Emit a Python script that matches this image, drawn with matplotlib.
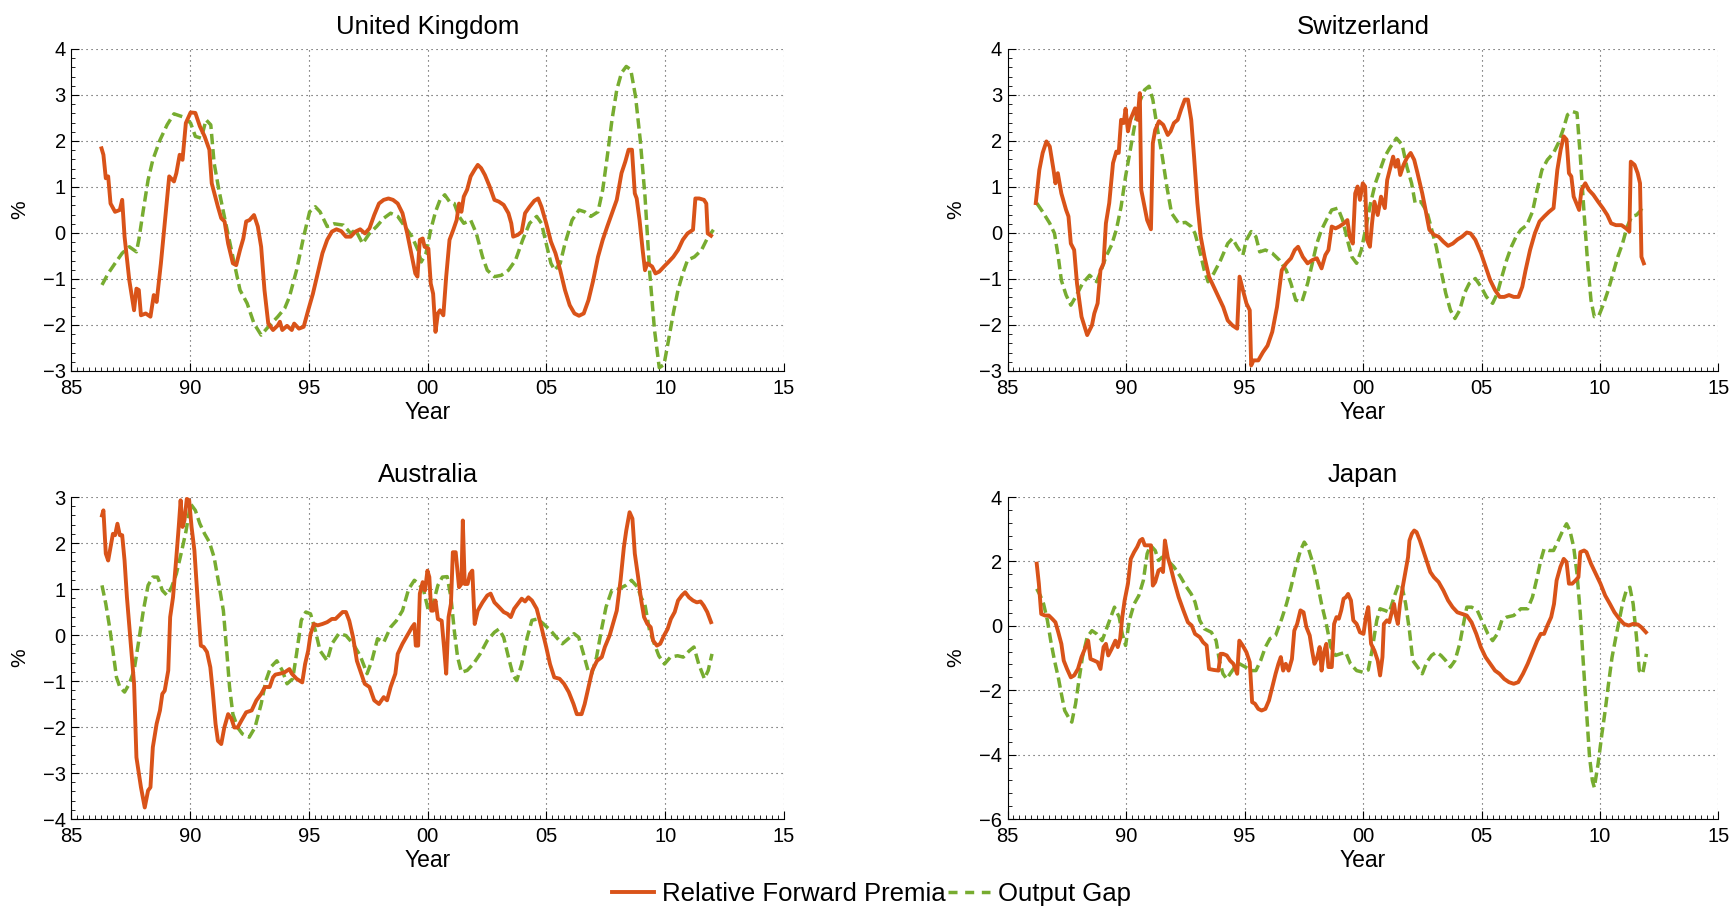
import matplotlib
matplotlib.use("Agg")
import matplotlib.pyplot as plt
from matplotlib.lines import Line2D
from matplotlib.ticker import MultipleLocator

plt.rcParams['font.family'] = ['Liberation Sans', 'DejaVu Sans']

ORANGE = '#D95319'
GREEN = '#77AC30'

# ---------------- United Kingdom ----------------
uk_fp_t = [1986.27, 1986.35, 1986.45, 1986.55, 1986.65, 1986.84, 1987.04, 1987.14, 1987.24, 1987.44, 1987.64, 1987.74, 1987.84, 1987.93, 1988.13, 1988.33, 1988.47, 1988.59, 1988.77, 1988.93, 1989.12, 1989.32, 1989.42, 1989.56, 1989.68, 1989.82, 1990.02, 1990.22, 1990.41, 1990.61, 1990.81, 1990.91, 1991.17, 1991.31, 1991.45, 1991.60, 1991.80, 1991.94, 1992.10, 1992.24, 1992.36, 1992.50, 1992.69, 1992.85, 1992.99, 1993.13, 1993.29, 1993.49, 1993.69, 1993.78, 1993.88, 1994.08, 1994.28, 1994.38, 1994.58, 1994.78, 1994.97, 1995.17, 1995.37, 1995.57, 1995.77, 1995.97, 1996.16, 1996.36, 1996.56, 1996.76, 1996.96, 1997.16, 1997.36, 1997.55, 1997.75, 1997.95, 1998.15, 1998.35, 1998.54, 1998.74, 1998.94, 1999.14, 1999.34, 1999.48, 1999.57, 1999.67, 1999.79, 1999.87, 2000.03, 2000.13, 2000.23, 2000.33, 2000.43, 2000.52, 2000.66, 2000.78, 2000.92, 2001.08, 2001.22, 2001.32, 2001.42, 2001.52, 2001.66, 2001.81, 2001.97, 2002.11, 2002.25, 2002.41, 2002.61, 2002.81, 2003.00, 2003.20, 2003.40, 2003.52, 2003.60, 2003.80, 2003.96, 2004.10, 2004.29, 2004.49, 2004.65, 2004.79, 2004.99, 2005.19, 2005.38, 2005.58, 2005.78, 2005.98, 2006.18, 2006.37, 2006.57, 2006.77, 2006.97, 2007.17, 2007.37, 2007.56, 2007.76, 2007.96, 2008.16, 2008.32, 2008.46, 2008.60, 2008.72, 2008.80, 2008.92, 2009.05, 2009.15, 2009.25, 2009.45, 2009.59, 2009.75, 2009.95, 2010.14, 2010.34, 2010.54, 2010.74, 2010.94, 2011.17, 2011.27, 2011.43, 2011.63, 2011.73, 2011.79, 2011.93]
uk_fp_v = [1.84, 1.70, 1.19, 1.23, 0.64, 0.46, 0.50, 0.72, -0.08, -1.03, -1.68, -1.21, -1.24, -1.79, -1.75, -1.82, -1.35, -1.50, -0.66, 0.21, 1.23, 1.12, 1.30, 1.70, 1.59, 2.39, 2.62, 2.61, 2.32, 2.10, 1.81, 1.08, 0.57, 0.32, 0.25, -0.23, -0.66, -0.70, -0.37, -0.12, 0.25, 0.28, 0.39, 0.14, -0.30, -1.24, -1.97, -2.11, -2.01, -1.93, -2.11, -2.02, -2.11, -1.97, -2.08, -2.04, -1.68, -1.32, -0.88, -0.44, -0.15, 0.03, 0.08, 0.04, -0.08, -0.08, 0.03, 0.08, -0.01, 0.10, 0.39, 0.64, 0.72, 0.75, 0.72, 0.64, 0.43, -0.01, -0.52, -0.88, -0.95, -0.15, -0.12, -0.30, -0.34, -1.10, -1.32, -2.15, -1.75, -1.68, -1.79, -0.95, -0.15, 0.07, 0.28, 0.64, 0.46, 0.79, 0.94, 1.23, 1.37, 1.48, 1.41, 1.26, 1.01, 0.72, 0.68, 0.61, 0.43, 0.21, -0.08, -0.04, 0.03, 0.43, 0.57, 0.70, 0.75, 0.57, 0.21, -0.19, -0.44, -0.81, -1.24, -1.57, -1.75, -1.80, -1.75, -1.46, -1.03, -0.52, -0.15, 0.14, 0.43, 0.72, 1.30, 1.55, 1.81, 1.81, 0.86, 0.75, 0.28, -0.37, -0.81, -0.66, -0.73, -0.88, -0.84, -0.73, -0.63, -0.52, -0.37, -0.15, -0.01, 0.07, 0.75, 0.75, 0.72, 0.64, -0.01, -0.06]
uk_og_t = [1986.29, 1986.55, 1986.84, 1987.14, 1987.44, 1987.74, 1987.84, 1988.03, 1988.23, 1988.43, 1988.73, 1989.03, 1989.32, 1989.72, 1990.02, 1990.22, 1990.47, 1990.67, 1990.87, 1991.01, 1991.21, 1991.50, 1991.80, 1992.10, 1992.40, 1992.69, 1992.99, 1993.29, 1993.69, 1993.98, 1994.18, 1994.48, 1994.78, 1995.03, 1995.27, 1995.47, 1995.77, 1996.06, 1996.46, 1996.76, 1996.96, 1997.26, 1997.55, 1997.85, 1998.15, 1998.44, 1998.74, 1999.04, 1999.34, 1999.59, 1999.73, 1999.93, 2000.13, 2000.33, 2000.52, 2000.72, 2000.92, 2001.12, 2001.32, 2001.52, 2001.81, 2002.05, 2002.31, 2002.51, 2002.81, 2003.10, 2003.40, 2003.70, 2004.00, 2004.29, 2004.59, 2004.79, 2004.99, 2005.19, 2005.35, 2005.58, 2005.78, 2006.08, 2006.37, 2006.61, 2006.87, 2007.17, 2007.37, 2007.56, 2007.76, 2007.96, 2008.16, 2008.36, 2008.55, 2008.75, 2008.95, 2009.15, 2009.35, 2009.55, 2009.75, 2009.95, 2010.14, 2010.34, 2010.54, 2010.74, 2010.94, 2011.23, 2011.53, 2011.77, 2012.03]
uk_og_v = [-1.13, -0.88, -0.66, -0.44, -0.30, -0.41, -0.15, 0.50, 1.15, 1.59, 2.02, 2.35, 2.59, 2.52, 2.39, 2.10, 2.06, 2.46, 2.35, 1.52, 0.94, 0.21, -0.52, -1.24, -1.53, -1.97, -2.22, -2.04, -1.82, -1.64, -1.39, -0.81, -0.08, 0.46, 0.57, 0.46, 0.14, 0.20, 0.17, -0.01, 0.07, -0.23, -0.01, 0.14, 0.32, 0.43, 0.36, 0.14, -0.08, -0.37, -0.63, -0.44, 0.07, 0.46, 0.72, 0.83, 0.68, 0.64, 0.36, 0.21, 0.28, -0.01, -0.52, -0.81, -0.95, -0.92, -0.81, -0.59, -0.15, 0.21, 0.36, 0.21, -0.23, -0.66, -0.81, -0.66, -0.23, 0.28, 0.50, 0.46, 0.36, 0.46, 0.94, 1.66, 2.46, 3.11, 3.48, 3.62, 3.55, 2.97, 2.02, 0.79, -0.88, -2.11, -2.93, -2.86, -2.33, -1.75, -1.24, -0.88, -0.59, -0.52, -0.37, -0.12, 0.07]

# ---------------- Switzerland ----------------
ch_fp_t = [1986.19, 1986.34, 1986.48, 1986.64, 1986.78, 1986.94, 1987.02, 1987.12, 1987.27, 1987.47, 1987.57, 1987.67, 1987.81, 1987.93, 1988.12, 1988.36, 1988.56, 1988.66, 1988.80, 1988.92, 1989.05, 1989.15, 1989.29, 1989.45, 1989.59, 1989.69, 1989.79, 1989.90, 1989.98, 1990.08, 1990.18, 1990.38, 1990.48, 1990.58, 1990.64, 1990.78, 1990.89, 1991.05, 1991.13, 1991.23, 1991.39, 1991.57, 1991.76, 1991.88, 1992.02, 1992.18, 1992.32, 1992.48, 1992.61, 1992.75, 1992.87, 1993.01, 1993.15, 1993.31, 1993.50, 1993.70, 1993.90, 1994.10, 1994.29, 1994.49, 1994.69, 1994.79, 1994.93, 1995.08, 1995.22, 1995.28, 1995.38, 1995.58, 1995.78, 1995.97, 1996.17, 1996.37, 1996.57, 1996.76, 1996.96, 1997.12, 1997.26, 1997.46, 1997.66, 1997.86, 1998.05, 1998.25, 1998.41, 1998.54, 1998.68, 1998.84, 1999.00, 1999.20, 1999.34, 1999.44, 1999.57, 1999.67, 1999.77, 1999.87, 1999.99, 2000.09, 2000.17, 2000.29, 2000.38, 2000.48, 2000.62, 2000.76, 2000.92, 2001.02, 2001.16, 2001.27, 2001.37, 2001.47, 2001.57, 2001.71, 2001.85, 2002.01, 2002.16, 2002.30, 2002.50, 2002.64, 2002.80, 2002.99, 2003.19, 2003.39, 2003.59, 2003.79, 2003.99, 2004.18, 2004.38, 2004.54, 2004.74, 2004.98, 2005.17, 2005.37, 2005.57, 2005.77, 2005.96, 2006.16, 2006.36, 2006.56, 2006.72, 2006.86, 2007.05, 2007.25, 2007.45, 2007.65, 2007.85, 2008.04, 2008.20, 2008.34, 2008.47, 2008.59, 2008.69, 2008.79, 2008.89, 2009.03, 2009.12, 2009.22, 2009.38, 2009.52, 2009.72, 2009.92, 2010.12, 2010.31, 2010.47, 2010.67, 2010.91, 2011.10, 2011.24, 2011.30, 2011.46, 2011.59, 2011.69, 2011.75, 2011.85]
ch_fp_v = [0.65, 1.37, 1.74, 1.99, 1.88, 1.37, 1.08, 1.30, 0.86, 0.50, 0.36, -0.23, -0.37, -1.10, -1.82, -2.22, -2.01, -1.75, -1.53, -0.81, -0.66, 0.21, 0.65, 1.52, 1.77, 1.74, 2.46, 2.39, 2.70, 2.21, 2.46, 2.71, 2.46, 3.04, 0.94, 0.57, 0.28, 0.08, 1.95, 2.24, 2.43, 2.35, 2.13, 2.21, 2.39, 2.46, 2.68, 2.90, 2.90, 2.46, 1.66, 0.65, -0.08, -0.52, -0.95, -1.17, -1.39, -1.61, -1.90, -2.01, -2.08, -0.95, -1.24, -1.53, -1.68, -2.88, -2.77, -2.77, -2.59, -2.45, -2.15, -1.61, -0.81, -0.66, -0.55, -0.37, -0.30, -0.52, -0.66, -0.59, -0.55, -0.77, -0.48, -0.37, 0.14, 0.10, 0.14, 0.21, 0.28, -0.08, -0.23, 0.86, 1.01, 0.72, 1.08, 1.01, -0.15, -0.30, 0.21, 0.68, 0.39, 0.79, 0.54, 1.15, 1.44, 1.66, 1.44, 1.59, 1.26, 1.48, 1.63, 1.74, 1.59, 1.30, 0.86, 0.50, 0.07, -0.04, -0.08, -0.19, -0.28, -0.23, -0.14, -0.08, 0.01, -0.01, -0.15, -0.44, -0.73, -1.03, -1.24, -1.39, -1.39, -1.35, -1.39, -1.39, -1.17, -0.81, -0.37, -0.01, 0.25, 0.36, 0.46, 0.54, 1.37, 1.81, 2.10, 2.03, 1.30, 1.23, 0.79, 0.61, 0.50, 0.94, 1.08, 0.94, 0.83, 0.68, 0.54, 0.39, 0.21, 0.17, 0.17, 0.10, 0.03, 1.55, 1.48, 1.30, 1.08, -0.52, -0.66]
ch_og_t = [1986.23, 1986.48, 1986.78, 1986.98, 1987.14, 1987.27, 1987.47, 1987.67, 1987.87, 1988.16, 1988.46, 1988.76, 1988.95, 1989.15, 1989.39, 1989.59, 1989.79, 1989.98, 1990.18, 1990.38, 1990.58, 1990.78, 1990.97, 1991.13, 1991.33, 1991.53, 1991.72, 1991.92, 1992.22, 1992.51, 1992.75, 1992.91, 1993.10, 1993.30, 1993.46, 1993.70, 1993.99, 1994.29, 1994.49, 1994.69, 1994.93, 1995.08, 1995.28, 1995.48, 1995.64, 1995.88, 1996.17, 1996.47, 1996.76, 1996.96, 1997.16, 1997.42, 1997.66, 1997.86, 1998.05, 1998.25, 1998.45, 1998.68, 1998.94, 1999.14, 1999.34, 1999.53, 1999.73, 1999.93, 2000.13, 2000.32, 2000.52, 2000.72, 2000.92, 2001.12, 2001.41, 2001.65, 2001.85, 2002.05, 2002.20, 2002.44, 2002.70, 2002.90, 2003.09, 2003.29, 2003.49, 2003.69, 2003.88, 2004.08, 2004.28, 2004.48, 2004.74, 2004.98, 2005.21, 2005.47, 2005.67, 2005.86, 2006.06, 2006.26, 2006.46, 2006.66, 2006.91, 2007.15, 2007.35, 2007.55, 2007.78, 2008.04, 2008.24, 2008.44, 2008.63, 2008.83, 2009.03, 2009.17, 2009.32, 2009.48, 2009.62, 2009.76, 2009.96, 2010.16, 2010.35, 2010.55, 2010.75, 2010.95, 2011.15, 2011.34, 2011.54, 2011.74, 2011.90]
ch_og_v = [0.65, 0.46, 0.21, -0.01, -0.52, -1.03, -1.35, -1.57, -1.39, -1.10, -0.92, -1.06, -0.81, -0.52, -0.26, 0.07, 0.57, 1.23, 1.81, 2.39, 2.86, 3.11, 3.19, 2.90, 2.24, 1.66, 1.01, 0.43, 0.21, 0.23, 0.14, -0.01, -0.37, -0.81, -1.06, -0.88, -0.59, -0.23, -0.12, -0.30, -0.48, -0.15, 0.03, -0.08, -0.41, -0.37, -0.44, -0.59, -0.81, -1.10, -1.46, -1.50, -1.10, -0.66, -0.23, 0.07, 0.28, 0.50, 0.54, 0.28, -0.15, -0.52, -0.66, -0.37, 0.14, 0.65, 1.08, 1.37, 1.66, 1.84, 2.06, 1.92, 1.44, 1.08, 0.65, 0.68, 0.46, 0.07, -0.30, -0.81, -1.31, -1.68, -1.86, -1.68, -1.31, -1.10, -0.99, -1.17, -1.39, -1.53, -1.31, -0.95, -0.59, -0.30, -0.08, 0.07, 0.17, 0.46, 0.94, 1.37, 1.59, 1.74, 1.95, 2.24, 2.57, 2.64, 2.61, 1.66, 0.50, -0.66, -1.46, -1.82, -1.79, -1.53, -1.24, -0.88, -0.52, -0.23, 0.14, 0.36, 0.39, 0.50, 0.43]

# ---------------- Australia ----------------
au_fp_t = [1986.29, 1986.35, 1986.45, 1986.55, 1986.65, 1986.75, 1986.84, 1986.94, 1987.04, 1987.14, 1987.24, 1987.34, 1987.50, 1987.64, 1987.74, 1987.93, 1988.09, 1988.23, 1988.33, 1988.43, 1988.59, 1988.73, 1988.83, 1988.93, 1989.08, 1989.16, 1989.28, 1989.42, 1989.52, 1989.60, 1989.68, 1989.76, 1989.86, 1989.96, 1990.06, 1990.18, 1990.31, 1990.45, 1990.57, 1990.71, 1990.85, 1990.95, 1991.07, 1991.17, 1991.31, 1991.44, 1991.60, 1991.74, 1991.86, 1992.00, 1992.16, 1992.36, 1992.59, 1992.79, 1992.99, 1993.15, 1993.35, 1993.49, 1993.59, 1993.78, 1993.98, 1994.18, 1994.28, 1994.48, 1994.72, 1994.84, 1994.97, 1995.07, 1995.21, 1995.37, 1995.57, 1995.77, 1995.97, 1996.12, 1996.26, 1996.42, 1996.56, 1996.70, 1996.86, 1997.02, 1997.16, 1997.35, 1997.55, 1997.75, 1997.95, 1998.15, 1998.29, 1998.44, 1998.64, 1998.74, 1998.94, 1999.14, 1999.34, 1999.44, 1999.50, 1999.60, 1999.67, 1999.79, 1999.89, 1999.99, 2000.07, 2000.15, 2000.23, 2000.33, 2000.43, 2000.59, 2000.69, 2000.78, 2000.88, 2000.98, 2001.06, 2001.18, 2001.32, 2001.42, 2001.48, 2001.56, 2001.68, 2001.78, 2001.88, 2001.98, 2002.11, 2002.31, 2002.51, 2002.65, 2002.81, 2003.00, 2003.20, 2003.36, 2003.50, 2003.64, 2003.80, 2003.96, 2004.10, 2004.24, 2004.39, 2004.59, 2004.79, 2004.99, 2005.15, 2005.33, 2005.55, 2005.74, 2005.94, 2006.14, 2006.28, 2006.48, 2006.61, 2006.77, 2006.93, 2007.13, 2007.33, 2007.46, 2007.66, 2007.80, 2007.96, 2008.12, 2008.26, 2008.36, 2008.50, 2008.62, 2008.72, 2008.86, 2008.99, 2009.11, 2009.25, 2009.39, 2009.49, 2009.65, 2009.79, 2009.95, 2010.10, 2010.24, 2010.40, 2010.54, 2010.70, 2010.84, 2011.00, 2011.17, 2011.33, 2011.49, 2011.62, 2011.77, 2011.93]
au_fp_v = [2.60, 2.71, 1.77, 1.62, 1.91, 2.20, 2.17, 2.42, 2.17, 2.17, 1.62, 0.82, -0.19, -1.06, -2.66, -3.31, -3.75, -3.38, -3.31, -2.44, -1.93, -1.64, -1.28, -1.21, -0.77, 0.39, 0.82, 1.69, 2.35, 2.93, 2.35, 2.49, 2.96, 2.93, 2.35, 1.84, 0.82, -0.23, -0.26, -0.37, -0.70, -1.21, -1.93, -2.30, -2.37, -2.01, -1.72, -1.82, -2.01, -2.01, -1.86, -1.68, -1.64, -1.42, -1.28, -1.13, -1.13, -0.92, -0.86, -0.84, -0.81, -0.74, -0.84, -0.95, -1.03, -0.63, -0.34, 0.02, 0.24, 0.21, 0.24, 0.28, 0.35, 0.35, 0.42, 0.50, 0.50, 0.31, -0.05, -0.56, -0.77, -1.06, -1.13, -1.42, -1.50, -1.35, -1.42, -1.13, -0.84, -0.41, -0.19, -0.01, 0.17, 0.24, -0.23, -0.23, 0.90, 1.15, 0.97, 1.40, 1.26, 0.53, 0.53, 0.75, 0.35, 0.31, -0.27, -0.84, 0.39, 0.68, 1.80, 1.80, 1.04, 1.11, 2.49, 1.11, 1.11, 1.33, 1.40, 0.24, 0.53, 0.71, 0.86, 0.90, 0.71, 0.61, 0.50, 0.46, 0.39, 0.57, 0.68, 0.79, 0.73, 0.82, 0.75, 0.57, 0.17, -0.26, -0.63, -0.92, -0.95, -1.06, -1.24, -1.50, -1.72, -1.72, -1.50, -1.13, -0.77, -0.56, -0.48, -0.26, -0.01, 0.24, 0.53, 1.19, 1.91, 2.27, 2.67, 2.53, 1.77, 1.26, 0.75, 0.39, 0.24, 0.17, -0.12, -0.23, -0.19, -0.01, 0.13, 0.35, 0.50, 0.75, 0.86, 0.93, 0.82, 0.75, 0.71, 0.73, 0.64, 0.50, 0.28]
au_og_t = [1986.29, 1986.45, 1986.61, 1986.75, 1986.90, 1987.04, 1987.24, 1987.44, 1987.64, 1987.84, 1988.03, 1988.23, 1988.43, 1988.63, 1988.83, 1989.03, 1989.22, 1989.42, 1989.62, 1989.82, 1990.02, 1990.22, 1990.41, 1990.61, 1990.81, 1991.01, 1991.21, 1991.40, 1991.54, 1991.66, 1991.80, 1992.00, 1992.20, 1992.49, 1992.73, 1992.99, 1993.19, 1993.39, 1993.65, 1993.88, 1994.08, 1994.32, 1994.48, 1994.68, 1994.87, 1995.07, 1995.27, 1995.47, 1995.77, 1995.97, 1996.26, 1996.56, 1996.86, 1997.16, 1997.45, 1997.65, 1997.89, 1998.15, 1998.44, 1998.68, 1998.94, 1999.20, 1999.44, 1999.63, 1999.83, 2000.03, 2000.23, 2000.43, 2000.62, 2000.82, 2000.98, 2001.12, 2001.26, 2001.42, 2001.66, 2001.92, 2002.21, 2002.51, 2002.81, 2003.00, 2003.20, 2003.40, 2003.60, 2003.75, 2003.96, 2004.19, 2004.39, 2004.63, 2004.88, 2005.17, 2005.47, 2005.67, 2005.92, 2006.16, 2006.36, 2006.56, 2006.75, 2006.91, 2007.11, 2007.31, 2007.51, 2007.75, 2008.04, 2008.34, 2008.58, 2008.84, 2008.98, 2009.14, 2009.34, 2009.54, 2009.73, 2009.97, 2010.22, 2010.52, 2010.76, 2011.02, 2011.21, 2011.41, 2011.65, 2011.81, 2011.97]
au_og_v = [1.08, 0.68, 0.17, -0.34, -0.92, -1.13, -1.24, -1.06, -0.77, -0.12, 0.53, 1.08, 1.26, 1.26, 0.97, 0.86, 1.04, 1.33, 1.77, 2.24, 2.85, 2.71, 2.42, 2.20, 2.02, 1.69, 1.11, 0.53, -0.34, -1.13, -1.72, -2.01, -2.15, -2.22, -2.01, -1.50, -0.99, -0.70, -0.56, -0.77, -1.06, -0.95, -0.41, 0.32, 0.50, 0.46, 0.10, -0.34, -0.56, -0.19, 0.03, -0.01, -0.19, -0.45, -0.84, -0.56, -0.08, -0.16, 0.17, 0.31, 0.53, 1.00, 1.19, 1.11, 0.97, 0.53, 0.68, 1.08, 1.26, 1.27, 0.82, 0.10, -0.48, -0.81, -0.77, -0.63, -0.41, -0.12, 0.06, 0.13, -0.05, -0.48, -0.88, -0.99, -0.63, -0.05, 0.32, 0.35, 0.24, 0.10, -0.08, -0.19, -0.08, 0.03, -0.05, -0.41, -0.77, -0.84, -0.48, 0.10, 0.61, 0.97, 1.00, 1.08, 1.19, 1.04, 0.82, 0.68, 0.10, -0.19, -0.45, -0.63, -0.48, -0.45, -0.48, -0.34, -0.26, -0.63, -0.95, -0.77, -0.41]

# ---------------- Japan ----------------
jp_fp_t = [1986.23, 1986.32, 1986.42, 1986.58, 1986.74, 1986.88, 1987.02, 1987.14, 1987.27, 1987.37, 1987.51, 1987.67, 1987.81, 1987.97, 1988.12, 1988.26, 1988.40, 1988.50, 1988.66, 1988.80, 1988.92, 1989.05, 1989.15, 1989.25, 1989.39, 1989.55, 1989.65, 1989.75, 1989.84, 1989.94, 1990.08, 1990.20, 1990.34, 1990.47, 1990.59, 1990.69, 1990.79, 1990.89, 1990.97, 1991.05, 1991.13, 1991.23, 1991.37, 1991.48, 1991.56, 1991.64, 1991.76, 1991.88, 1992.02, 1992.22, 1992.42, 1992.61, 1992.77, 1992.91, 1993.11, 1993.25, 1993.40, 1993.50, 1993.70, 1993.90, 1993.99, 1994.09, 1994.25, 1994.39, 1994.53, 1994.69, 1994.78, 1994.92, 1995.08, 1995.22, 1995.32, 1995.44, 1995.58, 1995.72, 1995.88, 1996.03, 1996.17, 1996.31, 1996.43, 1996.53, 1996.63, 1996.74, 1996.86, 1997.00, 1997.10, 1997.22, 1997.36, 1997.49, 1997.61, 1997.75, 1997.85, 1997.95, 1998.05, 1998.17, 1998.25, 1998.35, 1998.45, 1998.54, 1998.68, 1998.78, 1998.88, 1998.98, 1999.08, 1999.18, 1999.28, 1999.37, 1999.49, 1999.59, 1999.73, 1999.87, 2000.02, 2000.12, 2000.22, 2000.34, 2000.48, 2000.62, 2000.72, 2000.82, 2000.88, 2001.01, 2001.11, 2001.21, 2001.31, 2001.37, 2001.47, 2001.56, 2001.70, 2001.80, 2001.90, 2001.96, 2002.06, 2002.16, 2002.26, 2002.40, 2002.56, 2002.70, 2002.84, 2002.99, 2003.19, 2003.39, 2003.59, 2003.78, 2003.98, 2004.18, 2004.38, 2004.58, 2004.78, 2004.97, 2005.17, 2005.37, 2005.57, 2005.76, 2005.96, 2006.16, 2006.36, 2006.55, 2006.75, 2006.95, 2007.15, 2007.35, 2007.50, 2007.64, 2007.78, 2007.94, 2008.06, 2008.17, 2008.33, 2008.47, 2008.59, 2008.69, 2008.83, 2008.97, 2009.09, 2009.17, 2009.33, 2009.43, 2009.62, 2009.82, 2010.02, 2010.22, 2010.42, 2010.61, 2010.81, 2011.01, 2011.21, 2011.40, 2011.60, 2011.74, 2011.94]
jp_fp_v = [1.93, 1.31, 0.37, 0.32, 0.32, 0.22, 0.11, -0.20, -0.56, -1.08, -1.34, -1.60, -1.54, -1.34, -0.97, -0.72, -0.46, -1.03, -1.08, -1.13, -1.34, -0.66, -0.56, -0.92, -0.72, -0.46, -0.66, -0.40, 0.27, 0.79, 1.31, 2.08, 2.29, 2.45, 2.65, 2.70, 2.50, 2.50, 2.50, 2.50, 1.25, 1.36, 1.72, 1.77, 1.67, 2.65, 2.13, 1.83, 1.41, 0.89, 0.48, 0.11, 0.01, -0.25, -0.35, -0.51, -0.61, -1.34, -1.37, -1.39, -0.87, -0.87, -0.92, -1.08, -1.18, -1.49, -0.46, -0.61, -0.82, -1.13, -2.37, -2.42, -2.58, -2.63, -2.58, -2.32, -1.91, -1.49, -1.18, -0.97, -1.39, -1.18, -1.39, -1.03, -0.15, 0.06, 0.48, 0.42, -0.04, -0.30, -0.77, -1.18, -1.03, -0.66, -1.39, -0.82, -0.56, -1.28, -1.28, 0.06, 0.27, 0.22, 0.48, 0.84, 0.89, 0.99, 0.79, 0.17, 0.06, -0.20, -0.25, 0.27, 0.58, -0.56, -0.77, -1.08, -1.54, -0.97, 0.06, 0.17, 0.11, 0.42, 0.68, 0.37, 0.06, 0.68, 1.31, 1.72, 2.13, 2.65, 2.86, 2.96, 2.91, 2.65, 2.29, 1.98, 1.67, 1.51, 1.36, 1.10, 0.79, 0.58, 0.42, 0.37, 0.32, 0.11, -0.25, -0.66, -0.97, -1.18, -1.39, -1.49, -1.65, -1.75, -1.80, -1.75, -1.49, -1.18, -0.82, -0.46, -0.25, -0.25, 0.01, 0.27, 0.68, 1.41, 1.83, 2.08, 1.98, 1.31, 1.31, 1.41, 1.51, 2.29, 2.34, 2.29, 1.93, 1.62, 1.31, 0.94, 0.68, 0.42, 0.22, 0.06, 0.01, 0.06, 0.04, -0.04, -0.20]
jp_og_t = [1986.23, 1986.38, 1986.52, 1986.68, 1986.82, 1986.98, 1987.14, 1987.27, 1987.41, 1987.57, 1987.71, 1987.87, 1988.01, 1988.16, 1988.36, 1988.56, 1988.76, 1988.99, 1989.25, 1989.51, 1989.71, 1989.84, 1989.98, 1990.14, 1990.34, 1990.54, 1990.73, 1990.89, 1991.03, 1991.23, 1991.37, 1991.52, 1991.76, 1992.02, 1992.31, 1992.51, 1992.75, 1992.91, 1993.11, 1993.30, 1993.60, 1993.80, 1993.94, 1994.09, 1994.25, 1994.39, 1994.59, 1994.79, 1995.04, 1995.28, 1995.48, 1995.68, 1995.88, 1996.07, 1996.31, 1996.57, 1996.77, 1996.96, 1997.16, 1997.36, 1997.52, 1997.70, 1997.85, 1998.05, 1998.25, 1998.45, 1998.64, 1998.84, 1999.04, 1999.27, 1999.47, 1999.73, 1999.99, 2000.22, 2000.38, 2000.58, 2000.72, 2000.92, 2001.11, 2001.31, 2001.51, 2001.64, 2001.80, 2001.96, 2002.10, 2002.30, 2002.50, 2002.69, 2002.89, 2003.09, 2003.29, 2003.49, 2003.69, 2003.88, 2004.08, 2004.24, 2004.38, 2004.58, 2004.82, 2005.08, 2005.27, 2005.47, 2005.67, 2005.86, 2006.06, 2006.36, 2006.66, 2006.95, 2007.15, 2007.35, 2007.50, 2007.64, 2007.84, 2008.04, 2008.24, 2008.43, 2008.59, 2008.73, 2008.89, 2009.03, 2009.17, 2009.29, 2009.43, 2009.56, 2009.68, 2009.76, 2009.92, 2010.08, 2010.22, 2010.36, 2010.51, 2010.67, 2010.81, 2010.95, 2011.11, 2011.26, 2011.40, 2011.54, 2011.66, 2011.80, 2011.96]
jp_og_v = [1.15, 0.94, 0.68, 0.17, -0.46, -1.08, -1.60, -2.11, -2.63, -2.84, -2.99, -2.42, -1.70, -0.97, -0.35, -0.15, -0.25, -0.46, 0.06, 0.58, 0.27, -0.25, -0.61, 0.17, 0.68, 0.94, 1.41, 2.24, 2.50, 2.34, 2.03, 2.13, 2.03, 1.83, 1.51, 1.25, 0.99, 0.74, 0.17, -0.09, -0.20, -0.46, -1.08, -1.49, -1.65, -1.49, -1.28, -1.18, -1.28, -1.39, -1.39, -1.08, -0.66, -0.40, -0.30, 0.22, 0.68, 1.20, 1.83, 2.34, 2.60, 2.39, 2.03, 1.41, 0.68, 0.06, -0.66, -0.92, -0.87, -0.82, -1.18, -1.39, -1.44, -1.37, -0.77, 0.17, 0.53, 0.48, 0.42, 0.89, 1.31, 1.25, 0.68, -0.15, -1.08, -1.28, -1.49, -1.13, -0.92, -0.82, -0.92, -1.08, -1.28, -1.08, -0.56, 0.06, 0.58, 0.58, 0.48, 0.06, -0.25, -0.46, -0.25, 0.17, 0.27, 0.32, 0.53, 0.53, 0.89, 1.51, 2.03, 2.39, 2.34, 2.34, 2.65, 2.96, 3.17, 2.96, 2.45, 1.62, 0.37, -1.08, -2.63, -4.08, -4.81, -5.02, -4.29, -3.36, -2.63, -1.80, -0.97, -0.35, 0.17, 0.68, 1.10, 1.20, 0.68, -0.35, -1.39, -1.49, -0.87]

panels = [
    ("United Kingdom", uk_fp_t, uk_fp_v, uk_og_t, uk_og_v, (-3, 4), [-3, -2, -1, 0, 1, 2, 3, 4]),
    ("Switzerland", ch_fp_t, ch_fp_v, ch_og_t, ch_og_v, (-3, 4), [-3, -2, -1, 0, 1, 2, 3, 4]),
    ("Australia", au_fp_t, au_fp_v, au_og_t, au_og_v, (-4, 3), [-4, -3, -2, -1, 0, 1, 2, 3]),
    ("Japan", jp_fp_t, jp_fp_v, jp_og_t, jp_og_v, (-6, 4), [-6, -4, -2, 0, 2, 4]),
]

x_ticks = [1985, 1990, 1995, 2000, 2005, 2010, 2015]
x_ticklabels = ['85', '90', '95', '00', '05', '10', '15']

fig = plt.figure(figsize=(17.36, 9.07), dpi=100)
positions = [
    [0.0411, 0.591, 0.4105, 0.355],
    [0.5804, 0.591, 0.4095, 0.355],
    [0.0411, 0.097, 0.4105, 0.355],
    [0.5804, 0.097, 0.4095, 0.355],
]

def minus(v):
    return str(v).replace('-', '\u2212')

for pos, (title, ft, fv, ot, ov, ylim, yticks) in zip(positions, panels):
    ax = fig.add_axes(pos)
    ax.plot(ft, fv, color=ORANGE, lw=2.8, solid_joinstyle='round', zorder=3)
    ax.plot(ot, ov, color=GREEN, lw=2.5, dashes=(3.0, 1.4), zorder=2)
    ax.set_xlim(1985, 2015)
    ax.set_ylim(*ylim)
    ax.set_xticks(x_ticks)
    ax.set_xticklabels(x_ticklabels)
    ax.set_yticks(yticks)
    ax.set_yticklabels([minus(v) for v in yticks])
    ax.xaxis.set_minor_locator(MultipleLocator(0.25))
    ax.yaxis.set_minor_locator(MultipleLocator((yticks[1] - yticks[0]) / 5))
    ax.grid(True, which='major', linestyle=(0, (1, 3.5)), color='#444444', lw=0.8)
    ax.spines['top'].set_visible(False)
    ax.spines['right'].set_visible(False)
    ax.tick_params(which='major', direction='in', length=6, labelsize=14.5, pad=6)
    ax.tick_params(which='minor', direction='in', length=3, width=0.6)
    ax.tick_params(axis='y', which='major', pad=4)
    ax.set_title(title, fontsize=18.5, pad=11)
    ax.set_xlabel('Year', fontsize=16.5, labelpad=2)
    ax.set_ylabel('%', fontsize=15, labelpad=10)

handles = [
    Line2D([0], [0], color=ORANGE, lw=2.8),
    Line2D([0], [0], color=GREEN, lw=2.5, dashes=(2.6, 2.2)),
]
fig.legend(handles, ['Relative Forward Premia', 'Output Gap'], loc='center',
           bbox_to_anchor=(0.502, 0.014), ncol=2, frameon=False, fontsize=18.5,
           handlelength=1.65, columnspacing=0.1, handletextpad=0.3,
           borderaxespad=0, borderpad=0)

fig.savefig('out.png', dpi=100)
